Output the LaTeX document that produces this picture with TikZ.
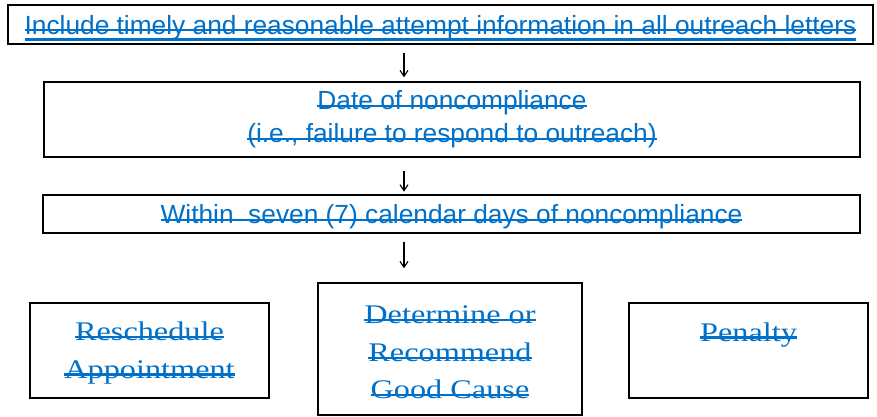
\documentclass[tikz,border=0pt]{standalone}
\usepackage{fontspec}
\usepackage{tikz}
\usetikzlibrary{positioning,calc,arrows.meta}
\newfontfamily\flowsans{Liberation Sans}
\newfontfamily\flowserif[FakeStretch=1.2]{Liberation Serif}
\definecolor{revblue}{RGB}{0,112,200}
% struck-out text, and struck-out plus underlined text
\newcommand{\strk}[1]{\setbox0=\hbox{#1}\rlap{\raisebox{2.6pt}{\rule{\wd0}{2.2pt}}}\box0}
\newcommand{\strkul}[1]{\setbox0=\hbox{#1}\rlap{\raisebox{2.6pt}{\rule{\wd0}{2.2pt}}}\rlap{\raisebox{-6.5pt}{\rule{\wd0}{2.4pt}}}\box0}
\tikzset{
    flow box/.style={
        rectangle,
        draw=black,
        line width=1.8pt,
        inner sep=0pt,
        outer sep=0pt,
        text=revblue,
        font=\flowsans\fontsize{26.3}{33.3}\selectfont,
    },
    serif text/.style={
        inner sep=0pt,
        outer sep=0pt,
        align=center,
        text=revblue,
        font=\flowserif\fontsize{26.9}{37.5}\selectfont,
    },
    flow arrow/.style={-{Straight Barb[length=6pt,width=8pt]}, line width=1.1pt},
}
\begin{document}
\begin{tikzpicture}[x=1pt,y=-1pt]
    \useasboundingbox (0,0) rectangle (877,416);

    %top row of boxes, one below the other
    \node[flow box, line width=2.4pt, minimum width=865pt, minimum height=39pt, text depth=0pt] (box1) at (440.5,24.5)
        {\strkul{Include timely and reasonable attempt information in all outreach letters}};
    \node[flow box, minimum width=816pt, minimum height=75pt, align=center] (box2) at (452,119.5)
        {\strk{Date of noncompliance}\\\strk{(i.e., failure to respond to outreach)}};
    \node[flow box, minimum width=817pt, minimum height=38pt, text depth=0pt] (box3) at (451.5,214)
        {\strk{Within\ \ seven (7) calendar days of noncompliance}};

    %three outcome boxes
    \node[flow box, minimum width=239pt, minimum height=95pt] (box4) at (149.5,350.5) {};
    \node[flow box, minimum width=264pt, minimum height=132pt] (box5) at (450,349) {};
    \node[flow box, minimum width=239pt, minimum height=95pt] (box6) at (748.5,350.5) {};

    \node[serif text, below=19pt of box4.north] (t4) {\strk{Reschedule}\\\strk{Appointment}};
    \node[serif text, below=23pt of box5.north] (t5) {\strk{Determine or}\\\strk{Recommend}\\\strk{Good Cause}};
    \node[serif text, below=19.5pt of box6.north] (t6) {\strk{Penalty}};

    %arrows
    \coordinate (ax) at (404,0);
    \coordinate (a3) at (404,268.3);
    \draw[flow arrow, shorten <=8.7pt, shorten >=4.7pt] (box1.south -| ax) -- (box2.north -| ax);
    \draw[flow arrow, shorten <=14pt, shorten >=3.3pt] (box2.south -| ax) -- (box3.north -| ax);
    \draw[flow arrow, shorten <=8.7pt] (box3.south -| ax) -- (a3);
\end{tikzpicture}
\end{document}
